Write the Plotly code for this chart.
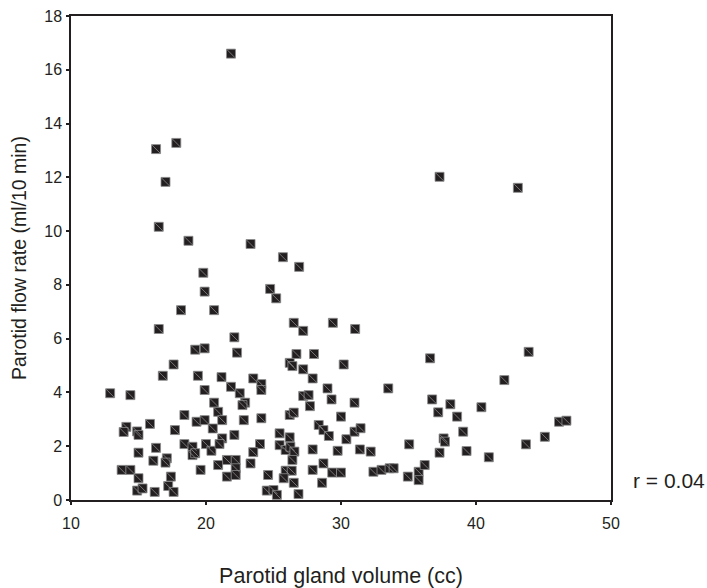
import plotly.graph_objects as go

# Parotid gland volume (cc) vs parotid flow rate (ml/10 min)
gland_volume = [
    21.85, 16.3, 17.8, 17.0, 37.3, 43.1, 16.5, 18.7, 23.3, 25.7,
    26.9, 19.8, 19.9, 24.75, 25.2, 18.15, 20.6, 26.5, 27.2, 29.4,
    31.05, 16.5, 22.1, 19.2, 19.9, 22.3, 26.7, 28.0, 26.2, 26.4,
    30.2, 17.6, 36.6, 43.9, 27.2, 16.8, 19.4, 21.15, 27.9, 23.5,
    24.1, 24.1, 42.1, 12.9, 14.4, 19.9, 21.85, 22.5, 29.0, 33.5,
    20.6, 22.9, 22.7, 29.3, 27.2, 27.6, 27.7, 31.0, 36.75, 38.1,
    40.4, 20.9, 37.2, 18.4, 26.2, 26.5, 21.2, 19.3, 19.9, 22.8,
    24.1, 30.0, 38.6, 46.15, 46.7, 15.85, 14.1, 13.9, 14.9, 15.0,
    17.7, 20.5, 28.35, 28.7, 29.1, 25.45, 30.4, 31.0, 31.45, 39.05,
    45.1, 22.1, 21.2, 37.6, 37.7, 26.2, 16.3, 15.0, 18.4, 19.0,
    19.0, 19.2, 20.0, 20.4, 21.0, 24.0, 23.5, 25.45, 25.9, 26.25,
    26.55, 26.4, 27.9, 29.75, 31.4, 32.2, 35.05, 37.3, 39.3, 43.7,
    40.95, 16.1, 17.1, 17.0, 21.55, 22.2, 22.2, 23.3, 28.7, 19.6,
    20.9, 13.75, 14.4, 27.9, 29.35, 30.0, 32.4, 33.0, 33.6, 33.9,
    25.9, 26.35, 35.75, 36.2, 15.0, 17.4, 21.55, 22.2, 24.6, 25.75,
    34.95, 35.75, 28.6, 26.5, 14.9, 15.3, 16.2, 17.2, 17.6, 24.5,
    25.0, 25.25, 26.85,
]
flow_rate = [
    16.6, 13.05, 13.28, 11.83, 12.02, 11.61, 10.16, 9.64, 9.52, 9.03,
    8.67, 8.45, 7.75, 7.85, 7.50, 7.06, 7.06, 6.59, 6.29, 6.59,
    6.36, 6.36, 6.05, 5.59, 5.64, 5.48, 5.43, 5.43, 5.10, 4.98,
    5.04, 5.04, 5.27, 5.51, 4.86, 4.62, 4.62, 4.57, 4.52, 4.52,
    4.31, 4.09, 4.46, 3.97, 3.90, 4.09, 4.21, 3.97, 4.15, 4.15,
    3.62, 3.62, 3.53, 3.74, 3.87, 3.90, 3.49, 3.62, 3.74, 3.56,
    3.45, 3.28, 3.26, 3.16, 3.16, 3.25, 2.97, 2.91, 2.97, 2.97,
    3.04, 3.10, 3.10, 2.91, 2.95, 2.83, 2.72, 2.53, 2.55, 2.42,
    2.60, 2.66, 2.79, 2.60, 2.38, 2.48, 2.26, 2.54, 2.67, 2.54,
    2.35, 2.42, 2.29, 2.29, 2.17, 2.33, 1.94, 1.76, 2.08, 1.98,
    1.67, 1.74, 2.08, 1.83, 2.08, 2.08, 1.78, 2.04, 1.86, 1.98,
    1.80, 1.49, 1.88, 1.83, 1.88, 1.80, 2.07, 1.76, 1.82, 2.07,
    1.59, 1.46, 1.55, 1.39, 1.49, 1.49, 1.18, 1.36, 1.36, 1.12,
    1.30, 1.12, 1.12, 1.12, 1.02, 1.02, 1.05, 1.12, 1.18, 1.18,
    1.09, 1.09, 1.05, 1.30, 0.81, 0.87, 0.87, 0.93, 0.93, 0.81,
    0.87, 0.74, 0.64, 0.64, 0.35, 0.43, 0.30, 0.52, 0.30, 0.35,
    0.37, 0.19, 0.22,
]

x_ticks = [10, 20, 30, 40, 50]
y_ticks = [0, 2, 4, 6, 8, 10, 12, 14, 16, 18]
r_label = "r = 0.04"

INK = "#231f20"
FONT = "Liberation Sans, Arial, sans-serif"

fig = go.Figure()

# filled square markers
fig.add_trace(go.Scatter(
    x=gland_volume, y=flow_rate, mode="markers",
    marker=dict(symbol="square", size=9, color=INK,
                line=dict(color="#8c8c8c", width=0.8)),
    hoverinfo="skip", showlegend=False,
))
# thin diagonal hatch across each square
fig.add_trace(go.Scatter(
    x=gland_volume, y=flow_rate, mode="markers",
    marker=dict(symbol="line-nw", size=8, color="#9a9a9a",
                line=dict(color="#9a9a9a", width=0.7)),
    hoverinfo="skip", showlegend=False,
))

axis_common = dict(
    showgrid=False, zeroline=False, showline=True, mirror=True,
    linecolor=INK, linewidth=1.5, automargin=False,
    ticks="outside", ticklen=3, tickwidth=2, tickcolor=INK,
    tickfont=dict(family=FONT, size=16, color=INK),
)

fig.update_xaxes(
    range=[10, 50], tickvals=x_ticks, ticklabelstandoff=5,
    title=dict(text="Parotid gland volume (cc)", standoff=37,
               font=dict(family=FONT, size=21.5, color=INK)),
    **axis_common,
)
fig.update_yaxes(
    range=[0, 18], tickvals=y_ticks, ticklabelstandoff=1,
    title=dict(text="Parotid flow rate (ml/10 min)", standoff=12,
               font=dict(family=FONT, size=19.5, color=INK)),
    **axis_common,
)

fig.add_annotation(
    text=r_label, xref="paper", yref="paper", x=1.037, y=0.04,
    xanchor="left", yanchor="middle", showarrow=False,
    font=dict(family=FONT, size=21, color=INK),
)

fig.update_layout(
    width=707, height=588,
    margin=dict(l=71, r=96, t=16, b=88),
    paper_bgcolor="white", plot_bgcolor="white",
)

fig.write_html("out.html")
